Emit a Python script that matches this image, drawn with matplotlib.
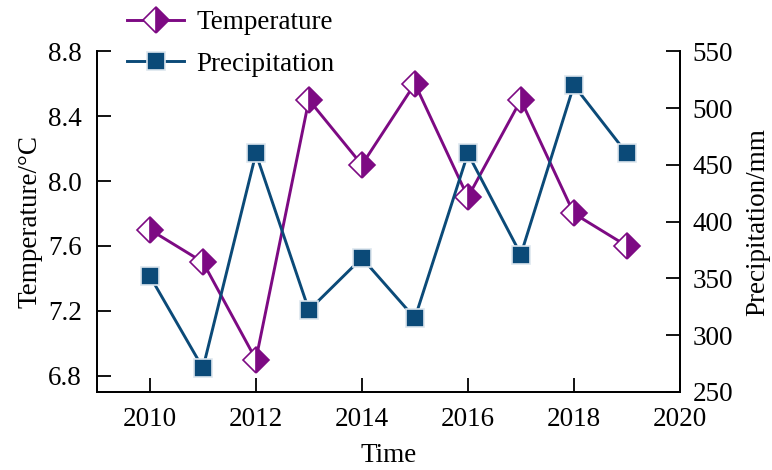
import matplotlib
matplotlib.use('Agg')
import matplotlib.pyplot as plt

# data
years = [2010, 2011, 2012, 2013, 2014, 2015, 2016, 2017, 2018, 2019]
temperature = [7.7, 7.5, 6.9, 8.5, 8.1, 8.6, 7.9, 8.5, 7.8, 7.6]
precipitation = [352, 271, 460, 322, 368, 315, 460, 371, 520, 460]
temp_ticks = [6.8, 7.2, 7.6, 8.0, 8.4, 8.8]
prec_ticks = [250, 300, 350, 400, 450, 500, 550]
year_ticks = [2010, 2012, 2014, 2016, 2018, 2020]

plt.rcParams['font.family'] = ['Liberation Serif', 'DejaVu Serif']
plt.rcParams['font.size'] = 19.5

purple = '#7d0a83'
blue = '#0b4a78'

fig = plt.figure(figsize=(7.72, 4.70), dpi=100)
ax = fig.add_axes([0.1256, 0.166, 0.755, 0.725])
ax2 = ax.twinx()

# temperature on the left axis
l1, = ax.plot(years, temperature, color=purple, lw=2.1, marker='D', ms=13,
              fillstyle='right', markerfacecolor=purple,
              markerfacecoloralt='white', markeredgecolor=purple, mew=1.2,
              label='Temperature')

# precipitation on the right axis
l2, = ax2.plot(years, precipitation, color=blue, lw=2.1, marker='s', ms=13,
               markerfacecolor=blue, markeredgecolor='#dde6ee', mew=1.2,
               label='Precipitation')

ax.set_xlim(2009, 2020)
ax.set_ylim(6.70, 8.8)
ax2.set_ylim(250, 550)
ax.set_xticks(year_ticks)
ax.set_yticks(temp_ticks)
ax.set_yticklabels(['%.1f' % t for t in temp_ticks])
ax2.set_yticks(prec_ticks)

for a in (ax, ax2):
    a.spines['top'].set_visible(False)
    for s in a.spines.values():
        s.set_linewidth(1.3)

ax.tick_params(axis='both', direction='in', length=10, width=1.3, pad=11)
ax.tick_params(axis='y', pad=11)
ax2.tick_params(axis='y', direction='in', length=10, width=1.3, pad=9)

ax.set_xlabel('Time', labelpad=8)
ax.set_ylabel('Temperature/°C', labelpad=4)
ax2.set_ylabel('Precipitation/mm', labelpad=9)

fig.legend(handles=[l1, l2], loc='upper left', bbox_to_anchor=(0.165, 0.978),
           frameon=False, handlelength=2.1, handletextpad=0.45,
           labelspacing=0.6, borderpad=0, borderaxespad=0)

fig.savefig('out.png', dpi=100)
